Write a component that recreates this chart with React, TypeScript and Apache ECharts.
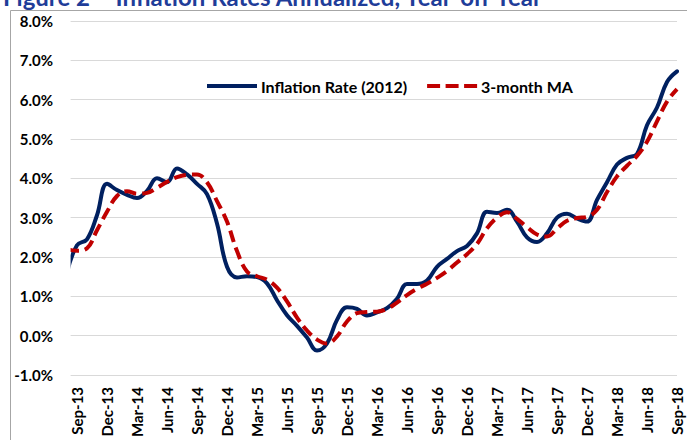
import React, { useEffect, useRef } from 'react';
import * as echarts from 'echarts';

const categories = [
  'Aug-13', 'Sep-13', 'Oct-13', 'Nov-13', 'Dec-13',
  'Jan-14', 'Feb-14', 'Mar-14', 'Apr-14', 'May-14', 'Jun-14', 'Jul-14', 'Aug-14', 'Sep-14', 'Oct-14', 'Nov-14', 'Dec-14',
  'Jan-15', 'Feb-15', 'Mar-15', 'Apr-15', 'May-15', 'Jun-15', 'Jul-15', 'Aug-15', 'Sep-15', 'Oct-15', 'Nov-15', 'Dec-15',
  'Jan-16', 'Feb-16', 'Mar-16', 'Apr-16', 'May-16', 'Jun-16', 'Jul-16', 'Aug-16', 'Sep-16', 'Oct-16', 'Nov-16', 'Dec-16',
  'Jan-17', 'Feb-17', 'Mar-17', 'Apr-17', 'May-17', 'Jun-17', 'Jul-17', 'Aug-17', 'Sep-17', 'Oct-17', 'Nov-17', 'Dec-17',
  'Jan-18', 'Feb-18', 'Mar-18', 'Apr-18', 'May-18', 'Jun-18', 'Jul-18', 'Aug-18', 'Sep-18',
];

const inflationRate = [
  1.6, 2.3, 2.45, 3.06, 3.86, 3.7, 3.58, 3.5, 3.68, 4.0, 3.9, 4.25, 4.1, 3.86, 3.6, 2.85, 1.75,
  1.48, 1.51, 1.49, 1.33, 0.9, 0.52, 0.25, -0.05, -0.38, -0.2, 0.4, 0.72,
  0.68, 0.51, 0.59, 0.7, 0.94, 1.31, 1.31, 1.4, 1.75, 1.95, 2.15, 2.28,
  2.6, 3.15, 3.12, 3.2, 2.9, 2.5, 2.38, 2.6, 3.0, 3.1, 2.98, 2.9,
  3.45, 3.9, 4.35, 4.52, 4.62, 5.35, 5.8, 6.45, 6.72,
];

const movingAverage = [
  2.2, 2.16, 2.22, 2.68, 3.15, 3.55, 3.67, 3.61, 3.63, 3.76, 3.91, 4.03, 4.09, 4.1, 3.9, 3.42, 2.9,
  2.15, 1.63, 1.51, 1.42, 1.22, 0.87, 0.46, 0.13, -0.1, -0.2, -0.02, 0.36,
  0.57, 0.6, 0.61, 0.68, 0.84, 1.03, 1.19, 1.32, 1.47, 1.64, 1.86, 2.07,
  2.33, 2.73, 3.0, 3.14, 2.97, 2.76, 2.57, 2.52, 2.72, 2.92, 2.99, 3.02,
  3.2, 3.65, 4.05, 4.32, 4.57, 4.93, 5.45, 5.95, 6.27,
];

const seriesNames = ['Inflation Rate (2012)', '3-month MA'];
const titleText = 'Figure 2 \u2013 Inflation Rates Annualized, Year-on-Year';

const FONT = 'Lato, "Open Sans", "Liberation Sans", sans-serif';
const BLUE = '#002060';
const RED = '#C00000';

export default function App() {
  const ref = useRef<HTMLDivElement>(null);

  useEffect(() => {
    if (!ref.current) return;
    const chart = echarts.init(ref.current, null, { renderer: 'svg' });
    chart.setOption({
      animation: false,
      backgroundColor: '#ffffff',
      textStyle: { fontFamily: FONT },
      graphic: [
        {
          type: 'rect',
          silent: true,
          z: -10,
          shape: { x: 10.5, y: 10.5, width: 720, height: 480 },
          style: { fill: 'none', stroke: '#a6a6a6', lineWidth: 1 },
        },
        {
          type: 'rect',
          silent: true,
          z: 100,
          shape: { x: 58, y: 15, width: 12.6, height: 370 },
          style: { fill: '#ffffff' },
        },
        {
          type: 'text',
          silent: true,
          x: 3,
          y: 8,
          style: {
            text: titleText,
            fontSize: 24,
            fontWeight: 'bold',
            fontFamily: FONT,
            fill: '#1F3D99',
            verticalAlign: 'bottom',
            align: 'left',
          },
        },
      ],
      legend: {
        left: 207,
        top: 78,
        padding: 0,
        itemWidth: 50,
        itemHeight: 4,
        itemGap: 20,
        data: [
          { name: seriesNames[0], icon: 'path://M0,0h50v4h-50z' },
          { name: seriesNames[1], icon: 'path://M0,0h13v4h-13z M18.5,0h13v4h-13z M37,0h13v4h-13z' },
        ],
        textStyle: { fontFamily: FONT, fontWeight: 'bold', fontSize: 16, color: '#000', padding: [0, 0, 0, -1] },
      },
      grid: { left: 67, right: 10, top: 21, bottom: 63, containLabel: false },
      xAxis: {
        type: 'category',
        data: categories,
        boundaryGap: false,
        axisLine: { show: false },
        axisTick: { show: false },
        splitLine: { show: false },
        axisLabel: {
          rotate: 90,
          margin: 12,
          interval: (index: number) => (index - 1) % 3 === 0,
          fontFamily: FONT,
          fontWeight: 'bold',
          fontSize: 15,
          color: '#000',
        },
      },
      yAxis: {
        type: 'value',
        min: -1,
        max: 8,
        interval: 1,
        axisLine: { show: false },
        axisTick: { show: false },
        splitLine: { show: true, lineStyle: { color: '#d9d9d9', width: 1 } },
        axisLabel: {
          margin: 14,
          formatter: (v: number) => v.toFixed(1) + '%',
          fontFamily: FONT,
          fontWeight: 'bold',
          fontSize: 15,
          color: '#000',
        },
      },
      series: [
        {
          name: seriesNames[0],
          type: 'line',
          data: inflationRate,
          smooth: 0.4,
          showSymbol: false,
          symbol: 'none',
          lineStyle: { color: BLUE, width: 4, cap: 'round', join: 'round' },
          itemStyle: { color: BLUE },
          z: 2,
        },
        {
          name: seriesNames[1],
          type: 'line',
          data: movingAverage,
          smooth: 0.4,
          showSymbol: false,
          symbol: 'none',
          lineStyle: { color: RED, width: 4, type: [12, 6] },
          itemStyle: { color: RED },
          z: 3,
        },
      ],
    });
    return () => chart.dispose();
  }, []);

  return (
    <div
      ref={ref}
      style={{ position: 'fixed', left: 0, top: 0, width: 687, height: 440, background: '#fff' }}
    />
  );
}
